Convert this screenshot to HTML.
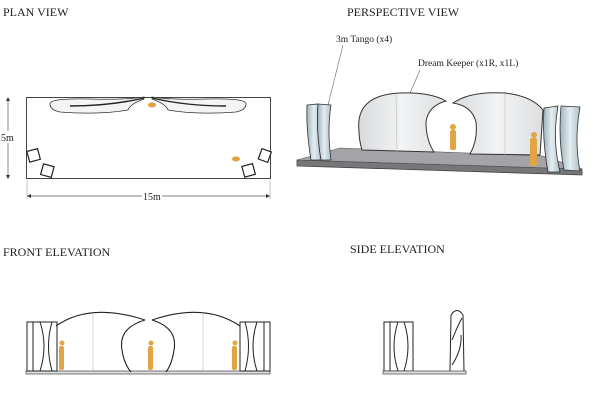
<!DOCTYPE html>
<html><head><style>
body{margin:0;background:#fff;width:600px;height:415px;overflow:hidden}
svg{display:block}
text{font-family:"Liberation Serif",serif;fill:#222}
</style></head><body>
<svg width="600" height="415" viewBox="0 0 600 415">
<defs>
<linearGradient id="dg" x1="0" x2="1"><stop offset="0" stop-color="#d8dadc"/><stop offset=".5" stop-color="#f2f3f4"/><stop offset="1" stop-color="#dcdee0"/></linearGradient>
<linearGradient id="tg" x1="0" x2="1"><stop offset="0" stop-color="#9fb3bd"/><stop offset=".5" stop-color="#e4eef2"/><stop offset="1" stop-color="#aebfc8"/></linearGradient>
</defs>
<text x="3" y="16" font-size="12">PLAN VIEW</text>
<text x="347" y="16" font-size="12">PERSPECTIVE VIEW</text>
<text x="3" y="256" font-size="12">FRONT ELEVATION</text>
<text x="350" y="253" font-size="12">SIDE ELEVATION</text>

<!-- plan -->
<rect x="26.5" y="97.5" width="244" height="81" fill="none" stroke="#444" stroke-width="1"/>
<line x1="8" y1="98" x2="8" y2="178" stroke="#555" stroke-width=".7"/>
<path d="M6 101 L8 97 L10 101Z M6 175 L8 179 L10 175Z" fill="#333"/>
<rect x="0" y="131" width="16" height="12" fill="#fff"/>
<text x="1" y="141" font-size="10">5m</text>
<line x1="27" y1="196" x2="270" y2="196" stroke="#555" stroke-width=".7"/>
<path d="M31 194 L27 196 L31 198Z M266 194 L270 196 L266 198Z" fill="#333"/>
<rect x="142" y="190" width="20" height="12" fill="#fff"/>
<text x="143" y="200" font-size="10">15m</text>
<line x1="27" y1="180" x2="27" y2="199" stroke="#888" stroke-width=".5"/>
<line x1="270" y1="180" x2="270" y2="199" stroke="#888" stroke-width=".5"/>
<path d="M50 104 Q49 98 90 99 Q125 100 144 97 L144 99 Q130 104 128 110 Q100 115 60 112 Q50 110 50 104Z" fill="#f4f4f4" stroke="#333" stroke-width=".8"/>
<path d="M70 106 Q110 106 144 98" fill="none" stroke="#222" stroke-width="1.4"/>
<path d="M246 104 Q247 98 206 99 Q171 100 152 97 L152 99 Q166 104 168 110 Q196 115 236 112 Q246 110 246 104Z" fill="#f4f4f4" stroke="#333" stroke-width=".8"/>
<path d="M226 106 Q186 106 152 98" fill="none" stroke="#222" stroke-width="1.4"/>
<ellipse cx="152" cy="105" rx="4" ry="2.5" fill="#e2a043"/>
<ellipse cx="236" cy="159" rx="4" ry="2.5" fill="#e2a043"/>
<g fill="#fff" stroke="#222" stroke-width="1.2">
<rect x="28" y="150" width="11" height="11" transform="rotate(-15 33 155)"/>
<rect x="42" y="165" width="11" height="11" transform="rotate(15 47 170)"/>
<rect x="260" y="150" width="10" height="11" transform="rotate(20 265 155)"/>
<rect x="243" y="165" width="11" height="11" transform="rotate(-15 248 170)"/>
</g>

<!-- perspective -->
<line x1="343" y1="45" x2="328" y2="105" stroke="#666" stroke-width=".6"/>
<line x1="420" y1="70" x2="410" y2="93" stroke="#666" stroke-width=".6"/>
<text x="336" y="42" font-size="9.5">3m Tango (x4)</text>
<text x="418" y="66" font-size="9.5">Dream Keeper (x1R, x1L)</text>
<path d="M297 166 L582 175 L582 169 L297 160Z" fill="#77777a" stroke="#444" stroke-width=".8"/>
<path d="M340 148 L543 156 L582 169 L297 160Z" fill="#a4a4a8" stroke="#555" stroke-width=".6"/>
<path d="M359 131 Q355 95 400 93 Q430 92 446 101 Q428 106 426 122 Q426 140 434 152 L362 150 Q359 140 359 131Z" fill="url(#dg)" stroke="#333" stroke-width="1"/>
<path d="M453 103 Q470 91 505 93 Q532 96 543 110 L540 155 L470 154 Q478 140 476 122 Q472 106 453 103Z" fill="url(#dg)" stroke="#333" stroke-width="1"/>
<line x1="396" y1="94" x2="397" y2="152" stroke="#bbb" stroke-width=".6"/>
<line x1="505" y1="94" x2="505" y2="155" stroke="#bbb" stroke-width=".6"/>
<g fill="#e3a443">
<circle cx="453" cy="127" r="3"/><rect x="450" y="130" width="6" height="20" rx="2"/>
<circle cx="534" cy="135" r="3"/><rect x="530" y="138" width="7" height="28" rx="2"/>
</g>
<g stroke="#333" stroke-width=".8" fill="url(#tg)">
<path d="M307 105 L318 104 Q316 130 321 160 L311 160 Q306 130 307 105Z"/>
<path d="M318 104 L331 105 Q327 130 331 160 L321 160 Q316 130 318 104Z"/>
<path d="M544 108 L558 106 Q552 140 560 172 L548 172 Q542 140 544 108Z"/>
<path d="M561 106 L580 107 Q574 140 580 171 L564 170 Q558 140 561 106Z"/>
</g>

<!-- front elevation -->
<rect x="26" y="371" width="244" height="3" fill="#ddd" stroke="#444" stroke-width=".7"/>
<g fill="none" stroke="#222" stroke-width="1.1">
<path d="M56 326 Q90 302 145 320"/>
<path d="M145 320 Q118 328 122 350 Q124 364 131 372"/>
<path d="M152 320 Q178 328 174 350 Q172 364 166 372"/>
<path d="M152 320 Q205 302 240 326"/>
</g>
<line x1="93" y1="313" x2="93" y2="371" stroke="#bbb" stroke-width=".6"/>
<line x1="203" y1="313" x2="203" y2="371" stroke="#bbb" stroke-width=".6"/>
<g fill="none" stroke="#222" stroke-width="1">
<rect x="27" y="322" width="30" height="49"/>
<path d="M33 322 L33 371 M40 322 Q48 346 40 371 M52 322 Q45 346 52 371"/>
<rect x="240" y="322" width="30" height="49"/>
<path d="M264 322 L264 371 M257 322 Q249 346 257 371 M245 322 Q252 346 245 371"/>
<rect x="384" y="322" width="29" height="49"/>
<path d="M390 322 L390 371 M398 322 Q390 346 398 371 M404 322 Q412 346 404 371"/>
<path d="M450 371 L451 315 Q457 306 463 315 L464 371 M452 340 Q458 325 462 318 M452 365 Q462 350 461 335"/>
</g>
<rect x="383" y="371" width="83" height="3" fill="#ddd" stroke="#444" stroke-width=".7"/>
<g fill="#e3a443">
<circle cx="62" cy="343" r="2.5"/><rect x="59" y="346" width="5" height="24" rx="2"/>
<circle cx="151" cy="343" r="2.5"/><rect x="148" y="346" width="5" height="24" rx="2"/>
<circle cx="235" cy="343" r="2.5"/><rect x="232" y="346" width="5" height="24" rx="2"/>
</g>
</svg>
</body></html>
